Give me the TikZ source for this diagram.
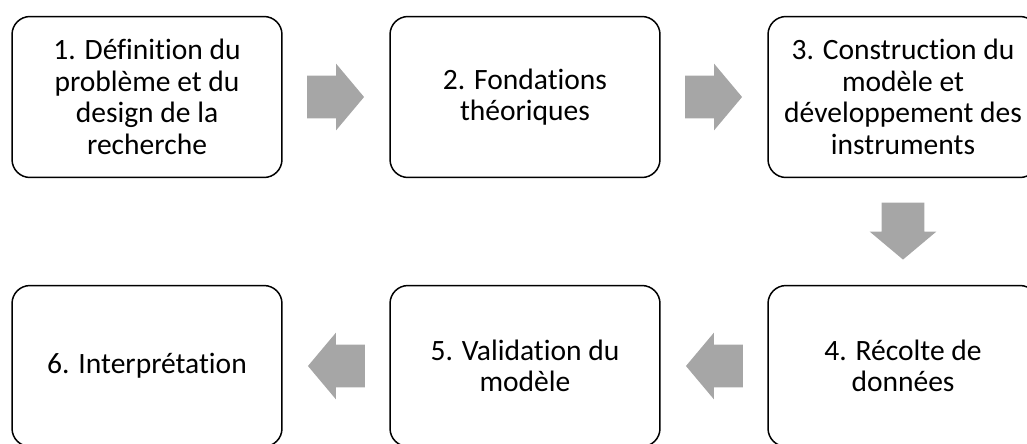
\documentclass[tikz,border=0pt]{standalone}
\usepackage{fontspec}
\setmainfont{Carlito}[Ligatures=NoCommon]
\usetikzlibrary{positioning, shapes.arrows, calc}
\definecolor{StepBorder}{HTML}{000000}
\definecolor{FlowGray}{HTML}{A6A6A6}

\begin{document}
\begin{tikzpicture}[
        x=0.02cm, y=-0.02cm,
        stepbox/.style={rectangle, draw=StepBorder, line width=0.85pt, rounded corners=0.36cm, fill=white, align=center, minimum width=5.4cm, minimum height=3.22cm, inner sep=0pt, font=\fontsize{16.8}{17.9}\selectfont},
        flowarrow/.style={single arrow, fill=FlowGray, draw=none, anchor=tail, inner xsep=0pt, inner ysep=0.42cm, minimum width=1.32cm, minimum height=1.14cm, single arrow head extend=0.24cm, single arrow tip angle=100}
    ]

    % --- CANVAS ---
    \useasboundingbox (0,0) rectangle (1027,443);
    \clip (0,0) rectangle (1027,443);

    % --- TOP ROW ---
    \node[stepbox] (s1) at (147, 97) {1. Définition du\\problème et du\\design de la\\recherche};
    \node[stepbox] (s2) at (525, 97) {2. Fondations\\théoriques};
    \node[stepbox] (s3) at (903, 97) {3. Construction du\\modèle et\\développement des\\instruments};

    % --- BOTTOM ROW ---
    \node[stepbox] (s4) at (903, 366) {4. Récolte de\\données};
    \node[stepbox] (s5) at (525, 366) {5. Validation du\\modèle};
    \node[stepbox] (s6) at (147, 366) {6. Interprétation};

    % --- FLOW ARROWS ---
    \node[flowarrow] (a12) at ([xshift=0.48cm]s1.east) {};
    \node[flowarrow] (a23) at ([xshift=0.48cm]s2.east) {};
    \node[flowarrow, shape border rotate=270, inner xsep=0.42cm, inner ysep=0pt] (a34) at ([yshift=-0.48cm]s3.south) {};
    \node[flowarrow, shape border rotate=180] (a45) at ([xshift=-0.48cm]s4.west) {};
    \node[flowarrow, shape border rotate=180] (a56) at ([xshift=-0.48cm]s5.west) {};

\end{tikzpicture}
\end{document}
